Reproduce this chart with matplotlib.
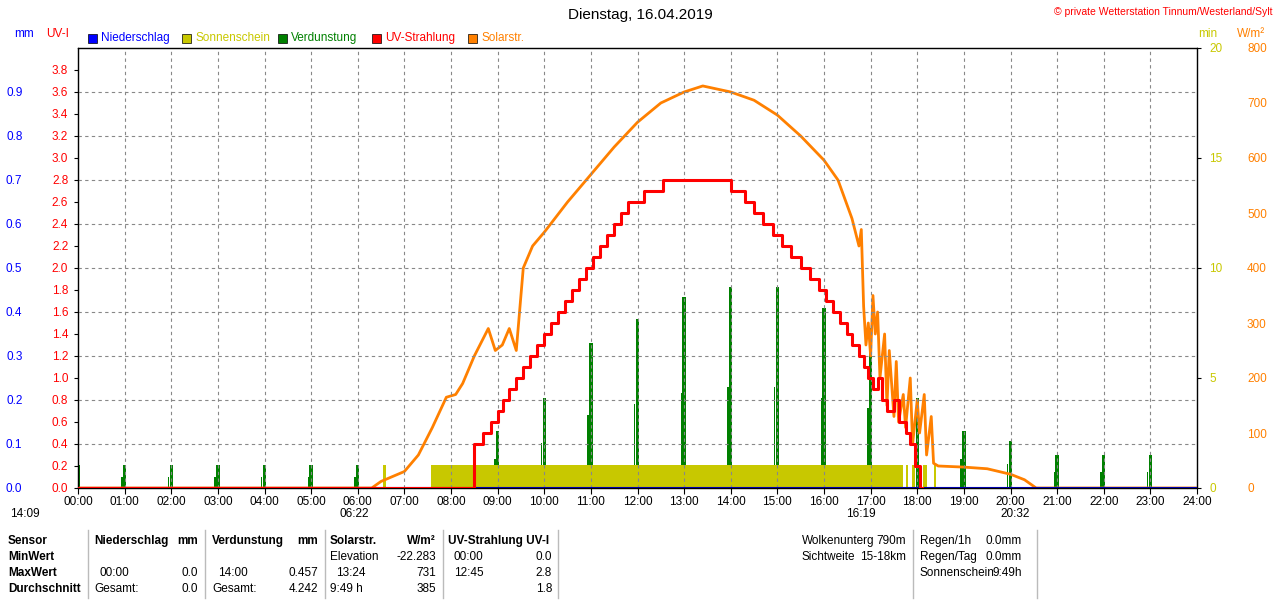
import matplotlib.pyplot as plt
import numpy as np

# --- data ---
hours = list(range(24))
verdunstung = [0.052, 0.052, 0.052, 0.052, 0.052, 0.052, 0.052, 0.0, 0.052, 0.13, 0.205, 0.33,
               0.384, 0.434, 0.457, 0.457, 0.41, 0.364, 0.205, 0.13, 0.107, 0.075, 0.075, 0.075]

sonne_start = [6.55, 7.58, 17.75, 17.88, 18.12, 18.35]
sonne_end = [6.6, 17.7, 17.8, 17.95, 18.2, 18.4]
sonne_min = 1.05

uv_t = [0, 8.5, 8.68, 8.85, 9.0, 9.12, 9.25, 9.4, 9.55, 9.7, 9.85, 10.0, 10.15, 10.3, 10.45, 10.6,
        10.75, 10.9, 11.05, 11.2, 11.35, 11.5, 11.65, 11.8, 11.95, 12.15, 12.35, 12.55, 12.75,
        14.0, 14.15, 14.3, 14.5, 14.7, 14.9, 15.1, 15.3, 15.5, 15.7, 15.9, 16.05, 16.2, 16.35,
        16.5, 16.6, 16.75, 16.85, 16.95, 17.05, 17.15, 17.25, 17.35, 17.5, 17.6, 17.75, 17.85,
        17.95, 18.05, 18.1]
uv_v = [0.0, 0.4, 0.5, 0.6, 0.7, 0.8, 0.9, 1.0, 1.1, 1.2, 1.3, 1.4, 1.5, 1.6, 1.7, 1.8,
        1.9, 2.0, 2.1, 2.2, 2.3, 2.4, 2.5, 2.6, 2.6, 2.7, 2.7, 2.8, 2.8,
        2.7, 2.7, 2.6, 2.5, 2.4, 2.3, 2.2, 2.1, 2.0, 1.9, 1.8, 1.7, 1.6, 1.5,
        1.4, 1.3, 1.2, 1.1, 1.0, 0.9, 1.0, 0.8, 0.7, 0.8, 0.6, 0.5, 0.4,
        0.2, 0.0, 0.0]

solar_t = [0, 6.3, 6.5, 7.0, 7.3, 7.6, 7.9, 8.1, 8.25, 8.5, 8.8, 8.95, 9.1, 9.25, 9.4, 9.55, 9.75,
           10.0, 10.5, 11.0, 11.5, 12.0, 12.5, 13.0, 13.4, 14.0, 14.5, 15.0, 15.5, 16.0, 16.3,
           16.6, 16.75, 16.8, 16.85, 16.9, 16.95, 17.0, 17.05, 17.1, 17.15, 17.2, 17.3, 17.35,
           17.4, 17.5, 17.55, 17.6, 17.7, 17.75, 17.85, 17.9, 18.0, 18.05, 18.15, 18.2, 18.3,
           18.35, 18.45, 19.0, 19.5, 20.0, 20.3, 20.55, 24.0]
solar_v = [0, 0, 12, 30, 60, 110, 165, 170, 190, 240, 290, 250, 260, 290, 250, 400, 440,
           465, 520, 570, 620, 665, 700, 720, 731, 720, 705, 678, 640, 596, 560,
           490, 440, 470, 330, 260, 300, 240, 350, 280, 320, 200, 280, 150,
           250, 130, 230, 120, 170, 110, 200, 80, 160, 100, 170, 60, 130,
           45, 40, 38, 35, 25, 15, 0, 0]

xlabels = [f"{h:02d}:00" for h in range(25)]
uv_ticks = [round(0.2 * i, 1) for i in range(20)]
mm_ticks = [round(0.1 * i, 1) for i in range(10)]

# --- figure ---
W, H = 1280, 600
fig = plt.figure(figsize=(12.8, 6.0), dpi=100)
plt.rcParams['font.family'] = ['Liberation Sans', 'DejaVu Sans']
fs = 8.5


def px(x, y):
    return x / W, 1 - y / H


ax = fig.add_axes([78 / W, 112 / H, (1197 - 78) / W, (488 - 48) / H])
ax.set_xlim(0, 24)
ax.set_ylim(0, 4.0)
ax.set_xticks(range(25))
ax.set_xticklabels(xlabels, fontsize=fs)
ax.set_yticks(uv_ticks)
ax.set_yticklabels([f"{v:.1f}" for v in uv_ticks], fontsize=fs, color='#ff0000')
ax.tick_params(axis='y', length=3, pad=4)
ax.tick_params(axis='x', length=4, pad=2)
for h in range(1, 24):
    ax.axvline(h, color='#888888', ls=(0, (3, 3)), lw=0.8, zorder=0)
for v in np.arange(0.4, 4.0, 0.4):
    ax.axhline(v, color='#888888', ls=(0, (3, 3)), lw=0.8, zorder=0)

# mm axis (left, outer)
ax_mm = ax.twinx()
ax_mm.yaxis.tick_left()
ax_mm.yaxis.set_label_position('left')
ax_mm.spines['left'].set_position(('outward', 0))
ax_mm.set_ylim(0, 1.0)
ax_mm.set_yticks(mm_ticks)
ax_mm.set_yticklabels([f"{v:.1f}" for v in mm_ticks], fontsize=fs, color='#0000ff')
ax_mm.tick_params(axis='y', length=0, pad=40)

# minutes axis (right)
ax_min = ax.twinx()
ax_min.set_ylim(0, 20)
ax_min.set_yticks([0, 5, 10, 15, 20])
ax_min.set_yticklabels(['0', '5', '10', '15', '20'], fontsize=fs, color='#c8c800')
ax_min.tick_params(axis='y', length=3, pad=6)

# W/m2 axis (right, outer)
ax_w = ax.twinx()
ax_w.set_ylim(0, 800)
ax_w.set_yticks(range(0, 801, 100))
ax_w.set_yticklabels([str(v) for v in range(0, 801, 100)], fontsize=fs, color='#ff8000')
ax_w.tick_params(axis='y', length=0, pad=36)

# sunshine
for s, e in zip(sonne_start, sonne_end):
    ax_min.fill_between([s, e], 0, sonne_min, color='#c8c800', lw=0, zorder=1)

# evaporation spikes
ax_mm.bar(hours, verdunstung, width=0.07, color='#008000', zorder=2)
ax_mm.bar([h - 0.06 for h in hours], [v * 0.5 for v in verdunstung], width=0.03, color='#008000', zorder=2)

# solar and UV
ax_w.plot(solar_t, solar_v, color='#ff8000', lw=2, zorder=3)
ax.plot(uv_t, uv_v, color='#ff0000', lw=2.2, drawstyle='steps-post', zorder=4)
ax.axhline(0, color='#0000aa', lw=1.5, zorder=5)

ax.set_zorder(ax_w.get_zorder() + 1)
ax.patch.set_visible(False)
ax.lines[-2].set_zorder(6)

# --- header texts ---
fig.text(*px(640, 15), "Dienstag, 16.04.2019", fontsize=11, ha='center', va='center')
fig.text(*px(1272, 12), "© private Wetterstation Tinnum/Westerland/Sylt", fontsize=7.5,
         color='#ff0000', ha='right', va='center')
fig.text(*px(14, 34), "mm", fontsize=fs, color='#0000ff', va='center')
fig.text(*px(46, 34), "UV-I", fontsize=fs, color='#ff0000', va='center')
fig.text(*px(1198, 34), "min", fontsize=fs, color='#c8c800', va='center')
fig.text(*px(1237, 34), "W/m²", fontsize=fs, color='#ff8000', va='center')
legend = [(88, '#0000ff', 'Niederschlag'), (182, '#c8c800', 'Sonnenschein'),
          (278, '#008000', 'Verdunstung'), (372, '#ff0000', 'UV-Strahlung'),
          (468, '#ff8000', 'Solarstr.')]
for x, c, t in legend:
    fig.patches.append(plt.Rectangle(px(x, 43), 9 / W, 9 / H, transform=fig.transFigure,
                                     color=c, ec='k', lw=0.5))
    fig.text(*px(x + 13, 38), t, fontsize=fs, color=c, va='center')

# sun times
for x, t in [(10, "14:09"), (340, "06:22"), (846, "16:19"), (1000, "20:32")]:
    fig.text(*px(x, 514), t, fontsize=fs, va='center')

# --- bottom table ---
rows_y = [541, 557, 573, 589]
bold = dict(fontsize=fs, fontweight='bold', va='center')
norm = dict(fontsize=fs, va='center')
for y, t in zip(rows_y, ["Sensor", "MinWert", "MaxWert", "Durchschnitt"]):
    fig.text(*px(8, y), t, **bold)
fig.text(*px(94, 541), "Niederschlag", **bold)
fig.text(*px(198, 541), "mm", ha='right', **bold)
fig.text(*px(212, 541), "Verdunstung", **bold)
fig.text(*px(318, 541), "mm", ha='right', **bold)
fig.text(*px(330, 541), "Solarstr.", **bold)
fig.text(*px(436, 541), "W/m²", ha='right', **bold)
fig.text(*px(448, 541), "UV-Strahlung UV-I", **bold)

cells = [(100, 573, "00:00", 'left'), (198, 573, "0.0", 'right'),
         (94, 589, "Gesamt:", 'left'), (198, 589, "0.0", 'right'),
         (218, 573, "14:00", 'left'), (318, 573, "0.457", 'right'),
         (212, 589, "Gesamt:", 'left'), (318, 589, "4.242", 'right'),
         (330, 557, "Elevation", 'left'), (436, 557, "-22.283", 'right'),
         (336, 573, "13:24", 'left'), (436, 573, "731", 'right'),
         (330, 589, "9:49 h", 'left'), (436, 589, "385", 'right'),
         (454, 557, "00:00", 'left'), (552, 557, "0.0", 'right'),
         (454, 573, "12:45", 'left'), (552, 573, "2.8", 'right'),
         (552, 589, "1.8", 'right'),
         (802, 541, "Wolkenunterg", 'left'), (906, 541, "790m", 'right'),
         (802, 557, "Sichtweite", 'left'), (906, 557, "15-18km", 'right'),
         (920, 541, "Regen/1h", 'left'), (1022, 541, "0.0mm", 'right'),
         (920, 557, "Regen/Tag", 'left'), (1022, 557, "0.0mm", 'right'),
         (920, 573, "Sonnenschein", 'left'), (1022, 573, "9:49h", 'right')]
for x, y, t, ha in cells:
    fig.text(*px(x, y), t, ha=ha, **norm)

for x in [88, 205, 325, 443, 558, 913, 1037]:
    fig.add_artist(plt.Line2D([x / W, x / W], [1 - 530 / H, 1 - 598 / H],
                              transform=fig.transFigure, color='#bbbbbb', lw=1))

fig.savefig('out.png', dpi=100)
